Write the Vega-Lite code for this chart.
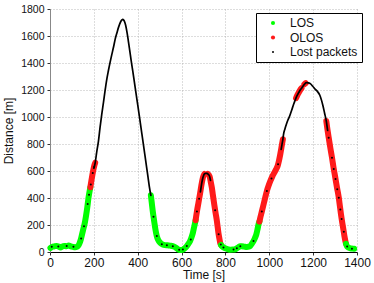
{
  "$schema": "https://vega.github.io/schema/vega-lite/v6.json",
  "width": 307,
  "height": 243,
  "autosize": {"type": "none"},
  "padding": {"left": 50, "top": 9, "right": 17, "bottom": 31},
  "background": "white",
  "config": {
    "view": {"stroke": null},
    "font": "Liberation Sans",
    "axis": {
      "grid": true,
      "gridDash": [1, 2],
      "gridColor": "#a8a8a8",
      "gridWidth": 0.8,
      "tickSize": 3,
      "tickColor": "#333",
      "labelColor": "#111",
      "titleColor": "#111",
      "titleFontWeight": "normal",
      "titleFontSize": 12,
      "labelFlush": false,
      "labelOverlap": false,
      "format": "d"
    }
  },
  "datasets": {
    "track": [
      {"seg": "s1", "cls": "LOS", "t": 2, "d": 30}, {"seg": "s1", "cls": "LOS", "t": 10, "d": 38}, {"seg": "s1", "cls": "LOS", "t": 20, "d": 42}, {"seg": "s1", "cls": "LOS", "t": 30, "d": 45}, {"seg": "s1", "cls": "LOS", "t": 40, "d": 40}, {"seg": "s1", "cls": "LOS", "t": 48, "d": 33}, {"seg": "s1", "cls": "LOS", "t": 55, "d": 40}, {"seg": "s1", "cls": "LOS", "t": 65, "d": 45}, {"seg": "s1", "cls": "LOS", "t": 75, "d": 43}, {"seg": "s1", "cls": "LOS", "t": 85, "d": 48}, {"seg": "s1", "cls": "LOS", "t": 95, "d": 42}, {"seg": "s1", "cls": "LOS", "t": 105, "d": 38}, {"seg": "s1", "cls": "LOS", "t": 115, "d": 35}, {"seg": "s1", "cls": "LOS", "t": 122, "d": 38}, {"seg": "s1", "cls": "LOS", "t": 128, "d": 45}, {"seg": "s1", "cls": "LOS", "t": 134, "d": 62}, {"seg": "s1", "cls": "LOS", "t": 140, "d": 90}, {"seg": "s1", "cls": "LOS", "t": 146, "d": 130}, {"seg": "s1", "cls": "LOS", "t": 152, "d": 170}, {"seg": "s1", "cls": "LOS", "t": 158, "d": 210}, {"seg": "s1", "cls": "LOS", "t": 164, "d": 265}, {"seg": "s1", "cls": "LOS", "t": 170, "d": 330}, {"seg": "s1", "cls": "LOS", "t": 175, "d": 395}, {"seg": "s1", "cls": "LOS", "t": 180, "d": 445}, {"seg": "s1", "cls": "LOS", "t": 184, "d": 480},
      {"seg": "s2", "cls": "OLOS", "t": 184, "d": 480}, {"seg": "s2", "cls": "OLOS", "t": 190, "d": 540}, {"seg": "s2", "cls": "OLOS", "t": 196, "d": 595}, {"seg": "s2", "cls": "OLOS", "t": 202, "d": 640}, {"seg": "s2", "cls": "OLOS", "t": 206, "d": 660},
      {"seg": "s3", "cls": "Lost packets", "t": 200, "d": 620}, {"seg": "s3", "cls": "Lost packets", "t": 206, "d": 660}, {"seg": "s3", "cls": "Lost packets", "t": 213, "d": 740}, {"seg": "s3", "cls": "Lost packets", "t": 221, "d": 822}, {"seg": "s3", "cls": "Lost packets", "t": 228, "d": 920}, {"seg": "s3", "cls": "Lost packets", "t": 236, "d": 1020}, {"seg": "s3", "cls": "Lost packets", "t": 244, "d": 1110}, {"seg": "s3", "cls": "Lost packets", "t": 251, "d": 1193}, {"seg": "s3", "cls": "Lost packets", "t": 258, "d": 1270}, {"seg": "s3", "cls": "Lost packets", "t": 266, "d": 1341}, {"seg": "s3", "cls": "Lost packets", "t": 274, "d": 1405}, {"seg": "s3", "cls": "Lost packets", "t": 282, "d": 1464}, {"seg": "s3", "cls": "Lost packets", "t": 290, "d": 1520}, {"seg": "s3", "cls": "Lost packets", "t": 297, "d": 1575}, {"seg": "s3", "cls": "Lost packets", "t": 305, "d": 1622}, {"seg": "s3", "cls": "Lost packets", "t": 312, "d": 1662}, {"seg": "s3", "cls": "Lost packets", "t": 318, "d": 1690}, {"seg": "s3", "cls": "Lost packets", "t": 324, "d": 1711}, {"seg": "s3", "cls": "Lost packets", "t": 328, "d": 1720}, {"seg": "s3", "cls": "Lost packets", "t": 332, "d": 1723}, {"seg": "s3", "cls": "Lost packets", "t": 336, "d": 1718}, {"seg": "s3", "cls": "Lost packets", "t": 339, "d": 1711}, {"seg": "s3", "cls": "Lost packets", "t": 345, "d": 1680}, {"seg": "s3", "cls": "Lost packets", "t": 352, "d": 1620}, {"seg": "s3", "cls": "Lost packets", "t": 358, "d": 1555}, {"seg": "s3", "cls": "Lost packets", "t": 364, "d": 1488}, {"seg": "s3", "cls": "Lost packets", "t": 370, "d": 1420}, {"seg": "s3", "cls": "Lost packets", "t": 377, "d": 1345}, {"seg": "s3", "cls": "Lost packets", "t": 384, "d": 1268}, {"seg": "s3", "cls": "Lost packets", "t": 391, "d": 1190}, {"seg": "s3", "cls": "Lost packets", "t": 398, "d": 1112}, {"seg": "s3", "cls": "Lost packets", "t": 405, "d": 1035}, {"seg": "s3", "cls": "Lost packets", "t": 412, "d": 955}, {"seg": "s3", "cls": "Lost packets", "t": 419, "d": 875}, {"seg": "s3", "cls": "Lost packets", "t": 426, "d": 795}, {"seg": "s3", "cls": "Lost packets", "t": 433, "d": 715}, {"seg": "s3", "cls": "Lost packets", "t": 440, "d": 635}, {"seg": "s3", "cls": "Lost packets", "t": 447, "d": 555}, {"seg": "s3", "cls": "Lost packets", "t": 453, "d": 485}, {"seg": "s3", "cls": "Lost packets", "t": 460, "d": 420},
      {"seg": "s4", "cls": "LOS", "t": 460, "d": 420}, {"seg": "s4", "cls": "LOS", "t": 464, "d": 365}, {"seg": "s4", "cls": "LOS", "t": 468, "d": 310}, {"seg": "s4", "cls": "LOS", "t": 472, "d": 262}, {"seg": "s4", "cls": "LOS", "t": 476, "d": 218}, {"seg": "s4", "cls": "LOS", "t": 480, "d": 175}, {"seg": "s4", "cls": "LOS", "t": 484, "d": 140}, {"seg": "s4", "cls": "LOS", "t": 488, "d": 112}, {"seg": "s4", "cls": "LOS", "t": 493, "d": 90}, {"seg": "s4", "cls": "LOS", "t": 499, "d": 75}, {"seg": "s4", "cls": "LOS", "t": 506, "d": 63}, {"seg": "s4", "cls": "LOS", "t": 514, "d": 55}, {"seg": "s4", "cls": "LOS", "t": 524, "d": 51}, {"seg": "s4", "cls": "LOS", "t": 536, "d": 50}, {"seg": "s4", "cls": "LOS", "t": 548, "d": 47}, {"seg": "s4", "cls": "LOS", "t": 560, "d": 43}, {"seg": "s4", "cls": "LOS", "t": 568, "d": 38}, {"seg": "s4", "cls": "LOS", "t": 576, "d": 30}, {"seg": "s4", "cls": "LOS", "t": 584, "d": 20}, {"seg": "s4", "cls": "LOS", "t": 592, "d": 15}, {"seg": "s4", "cls": "LOS", "t": 600, "d": 15}, {"seg": "s4", "cls": "LOS", "t": 608, "d": 20}, {"seg": "s4", "cls": "LOS", "t": 616, "d": 30}, {"seg": "s4", "cls": "LOS", "t": 624, "d": 44}, {"seg": "s4", "cls": "LOS", "t": 631, "d": 60}, {"seg": "s4", "cls": "LOS", "t": 639, "d": 82}, {"seg": "s4", "cls": "LOS", "t": 646, "d": 112}, {"seg": "s4", "cls": "LOS", "t": 652, "d": 145}, {"seg": "s4", "cls": "LOS", "t": 658, "d": 190}, {"seg": "s4", "cls": "LOS", "t": 664, "d": 235},
      {"seg": "s5", "cls": "OLOS", "t": 664, "d": 235}, {"seg": "s5", "cls": "OLOS", "t": 670, "d": 300}, {"seg": "s5", "cls": "OLOS", "t": 677, "d": 365}, {"seg": "s5", "cls": "OLOS", "t": 684, "d": 430}, {"seg": "s5", "cls": "OLOS", "t": 690, "d": 490}, {"seg": "s5", "cls": "OLOS", "t": 695, "d": 535}, {"seg": "s5", "cls": "OLOS", "t": 700, "d": 565}, {"seg": "s5", "cls": "OLOS", "t": 704, "d": 578},
      {"seg": "s6", "cls": "Lost packets", "t": 686, "d": 445}, {"seg": "s6", "cls": "Lost packets", "t": 690, "d": 490}, {"seg": "s6", "cls": "Lost packets", "t": 695, "d": 535}, {"seg": "s6", "cls": "Lost packets", "t": 700, "d": 565}, {"seg": "s6", "cls": "Lost packets", "t": 705, "d": 580}, {"seg": "s6", "cls": "Lost packets", "t": 710, "d": 583}, {"seg": "s6", "cls": "Lost packets", "t": 716, "d": 582}, {"seg": "s6", "cls": "Lost packets", "t": 722, "d": 575}, {"seg": "s6", "cls": "Lost packets", "t": 728, "d": 560}, {"seg": "s6", "cls": "Lost packets", "t": 732, "d": 530},
      {"seg": "s7", "cls": "OLOS", "t": 720, "d": 578}, {"seg": "s7", "cls": "OLOS", "t": 728, "d": 560}, {"seg": "s7", "cls": "OLOS", "t": 733, "d": 520}, {"seg": "s7", "cls": "OLOS", "t": 738, "d": 477}, {"seg": "s7", "cls": "OLOS", "t": 743, "d": 420}, {"seg": "s7", "cls": "OLOS", "t": 749, "d": 353}, {"seg": "s7", "cls": "OLOS", "t": 755, "d": 290}, {"seg": "s7", "cls": "OLOS", "t": 761, "d": 230}, {"seg": "s7", "cls": "OLOS", "t": 765, "d": 180}, {"seg": "s7", "cls": "OLOS", "t": 769, "d": 131}, {"seg": "s7", "cls": "OLOS", "t": 773, "d": 95}, {"seg": "s7", "cls": "OLOS", "t": 776, "d": 69}, {"seg": "s7", "cls": "OLOS", "t": 780, "d": 52},
      {"seg": "s8", "cls": "LOS", "t": 780, "d": 52}, {"seg": "s8", "cls": "LOS", "t": 785, "d": 42}, {"seg": "s8", "cls": "LOS", "t": 792, "d": 33}, {"seg": "s8", "cls": "LOS", "t": 799, "d": 27}, {"seg": "s8", "cls": "LOS", "t": 810, "d": 22}, {"seg": "s8", "cls": "LOS", "t": 822, "d": 17}, {"seg": "s8", "cls": "LOS", "t": 834, "d": 18}, {"seg": "s8", "cls": "LOS", "t": 845, "d": 20}, {"seg": "s8", "cls": "LOS", "t": 852, "d": 28}, {"seg": "s8", "cls": "LOS", "t": 860, "d": 37}, {"seg": "s8", "cls": "LOS", "t": 867, "d": 42}, {"seg": "s8", "cls": "LOS", "t": 875, "d": 42}, {"seg": "s8", "cls": "LOS", "t": 885, "d": 40}, {"seg": "s8", "cls": "LOS", "t": 898, "d": 37}, {"seg": "s8", "cls": "LOS", "t": 906, "d": 39}, {"seg": "s8", "cls": "LOS", "t": 913, "d": 44}, {"seg": "s8", "cls": "LOS", "t": 920, "d": 60}, {"seg": "s8", "cls": "LOS", "t": 928, "d": 81}, {"seg": "s8", "cls": "LOS", "t": 935, "d": 105}, {"seg": "s8", "cls": "LOS", "t": 941, "d": 131}, {"seg": "s8", "cls": "LOS", "t": 946, "d": 165}, {"seg": "s8", "cls": "LOS", "t": 951, "d": 205}, {"seg": "s8", "cls": "LOS", "t": 955, "d": 225},
      {"seg": "s9", "cls": "OLOS", "t": 955, "d": 225}, {"seg": "s9", "cls": "OLOS", "t": 959, "d": 254}, {"seg": "s9", "cls": "OLOS", "t": 966, "d": 300}, {"seg": "s9", "cls": "OLOS", "t": 974, "d": 353}, {"seg": "s9", "cls": "OLOS", "t": 981, "d": 400}, {"seg": "s9", "cls": "OLOS", "t": 989, "d": 452}, {"seg": "s9", "cls": "OLOS", "t": 997, "d": 492}, {"seg": "s9", "cls": "OLOS", "t": 1005, "d": 526}, {"seg": "s9", "cls": "OLOS", "t": 1014, "d": 560}, {"seg": "s9", "cls": "OLOS", "t": 1023, "d": 588}, {"seg": "s9", "cls": "OLOS", "t": 1030, "d": 610}, {"seg": "s9", "cls": "OLOS", "t": 1038, "d": 637}, {"seg": "s9", "cls": "OLOS", "t": 1044, "d": 675}, {"seg": "s9", "cls": "OLOS", "t": 1050, "d": 723}, {"seg": "s9", "cls": "OLOS", "t": 1054, "d": 760}, {"seg": "s9", "cls": "OLOS", "t": 1058, "d": 798}, {"seg": "s9", "cls": "OLOS", "t": 1062, "d": 835},
      {"seg": "s10", "cls": "Lost packets", "t": 1054, "d": 760}, {"seg": "s10", "cls": "Lost packets", "t": 1058, "d": 798}, {"seg": "s10", "cls": "Lost packets", "t": 1062, "d": 835}, {"seg": "s10", "cls": "Lost packets", "t": 1065, "d": 872}, {"seg": "s10", "cls": "Lost packets", "t": 1071, "d": 910}, {"seg": "s10", "cls": "Lost packets", "t": 1078, "d": 946}, {"seg": "s10", "cls": "Lost packets", "t": 1085, "d": 978}, {"seg": "s10", "cls": "Lost packets", "t": 1093, "d": 1007}, {"seg": "s10", "cls": "Lost packets", "t": 1102, "d": 1050}, {"seg": "s10", "cls": "Lost packets", "t": 1111, "d": 1094}, {"seg": "s10", "cls": "Lost packets", "t": 1118, "d": 1125}, {"seg": "s10", "cls": "Lost packets", "t": 1126, "d": 1156}, {"seg": "s10", "cls": "Lost packets", "t": 1134, "d": 1180}, {"seg": "s10", "cls": "Lost packets", "t": 1141, "d": 1200}, {"seg": "s10", "cls": "Lost packets", "t": 1149, "d": 1217}, {"seg": "s10", "cls": "Lost packets", "t": 1155, "d": 1232}, {"seg": "s10", "cls": "Lost packets", "t": 1162, "d": 1246}, {"seg": "s10", "cls": "Lost packets", "t": 1169, "d": 1254}, {"seg": "s10", "cls": "Lost packets", "t": 1178, "d": 1253}, {"seg": "s10", "cls": "Lost packets", "t": 1187, "d": 1247}, {"seg": "s10", "cls": "Lost packets", "t": 1198, "d": 1228}, {"seg": "s10", "cls": "Lost packets", "t": 1210, "d": 1205}, {"seg": "s10", "cls": "Lost packets", "t": 1220, "d": 1188}, {"seg": "s10", "cls": "Lost packets", "t": 1230, "d": 1163}, {"seg": "s10", "cls": "Lost packets", "t": 1238, "d": 1125}, {"seg": "s10", "cls": "Lost packets", "t": 1245, "d": 1081}, {"seg": "s10", "cls": "Lost packets", "t": 1252, "d": 1030}, {"seg": "s10", "cls": "Lost packets", "t": 1260, "d": 970}, {"seg": "s10", "cls": "Lost packets", "t": 1266, "d": 900},
      {"seg": "s11", "cls": "OLOS", "t": 1122, "d": 1140}, {"seg": "s11", "cls": "OLOS", "t": 1128, "d": 1162}, {"seg": "s11", "cls": "OLOS", "t": 1134, "d": 1180}, {"seg": "s11", "cls": "OLOS", "t": 1141, "d": 1200}, {"seg": "s11", "cls": "OLOS", "t": 1147, "d": 1213},
      {"seg": "s14", "cls": "OLOS", "t": 1160, "d": 1243}, {"seg": "s14", "cls": "OLOS", "t": 1166, "d": 1251},
      {"seg": "s12", "cls": "OLOS", "t": 1260, "d": 970}, {"seg": "s12", "cls": "OLOS", "t": 1265, "d": 910}, {"seg": "s12", "cls": "OLOS", "t": 1271, "d": 847}, {"seg": "s12", "cls": "OLOS", "t": 1278, "d": 775}, {"seg": "s12", "cls": "OLOS", "t": 1286, "d": 699}, {"seg": "s12", "cls": "OLOS", "t": 1293, "d": 625}, {"seg": "s12", "cls": "OLOS", "t": 1301, "d": 551}, {"seg": "s12", "cls": "OLOS", "t": 1309, "d": 475}, {"seg": "s12", "cls": "OLOS", "t": 1317, "d": 402}, {"seg": "s12", "cls": "OLOS", "t": 1322, "d": 340}, {"seg": "s12", "cls": "OLOS", "t": 1327, "d": 279}, {"seg": "s12", "cls": "OLOS", "t": 1333, "d": 215}, {"seg": "s12", "cls": "OLOS", "t": 1339, "d": 156}, {"seg": "s12", "cls": "OLOS", "t": 1343, "d": 115}, {"seg": "s12", "cls": "OLOS", "t": 1347, "d": 81}, {"seg": "s12", "cls": "OLOS", "t": 1350, "d": 60},
      {"seg": "s13", "cls": "LOS", "t": 1350, "d": 60}, {"seg": "s13", "cls": "LOS", "t": 1355, "d": 40}, {"seg": "s13", "cls": "LOS", "t": 1362, "d": 32}, {"seg": "s13", "cls": "LOS", "t": 1370, "d": 27}, {"seg": "s13", "cls": "LOS", "t": 1380, "d": 25}, {"seg": "s13", "cls": "LOS", "t": 1387, "d": 24}
    ],
    "dots": [
      {"t": 8, "d": 38}, {"t": 38, "d": 41}, {"t": 76, "d": 44}, {"t": 107, "d": 38}, {"t": 142, "d": 100}, {"t": 155, "d": 190}, {"t": 172, "d": 355}, {"t": 178, "d": 425}, {"t": 186, "d": 500}, {"t": 195, "d": 585}, {"t": 201, "d": 630},
      {"t": 472, "d": 262}, {"t": 487, "d": 118}, {"t": 510, "d": 58}, {"t": 533, "d": 50}, {"t": 560, "d": 43}, {"t": 589, "d": 17}, {"t": 606, "d": 19}, {"t": 624, "d": 44}, {"t": 642, "d": 92}, {"t": 670, "d": 300}, {"t": 680, "d": 395},
      {"t": 753, "d": 310}, {"t": 769, "d": 131}, {"t": 779, "d": 55}, {"t": 791, "d": 34}, {"t": 837, "d": 18}, {"t": 852, "d": 28}, {"t": 868, "d": 42}, {"t": 928, "d": 81},
      {"t": 966, "d": 300}, {"t": 989, "d": 452}, {"t": 1010, "d": 545}, {"t": 1040, "d": 650},
      {"t": 1271, "d": 847}, {"t": 1286, "d": 699}, {"t": 1294, "d": 615}, {"t": 1302, "d": 540}, {"t": 1310, "d": 465}, {"t": 1317, "d": 402}, {"t": 1324, "d": 315}, {"t": 1330, "d": 245}, {"t": 1340, "d": 150}, {"t": 1355, "d": 40}, {"t": 1377, "d": 25}
    ]
  },
  "encoding": {
    "x": {
      "field": "t", "type": "quantitative",
      "scale": {"domain": [0, 1400], "nice": false, "zero": false},
      "axis": {"title": "Time [s]", "values": [0, 200, 400, 600, 800, 1000, 1200, 1400], "labelFontSize": 12, "labelPadding": 2, "titlePadding": 1, "domainColor": "#000"}
    },
    "y": {
      "field": "d", "type": "quantitative",
      "scale": {"domain": [0, 1800], "nice": false},
      "axis": {"title": "Distance [m]", "values": [0, 200, 400, 600, 800, 1000, 1200, 1400, 1600, 1800], "labelFontSize": 10.5, "labelPadding": 3, "titlePadding": 5, "domainColor": "#888"}
    }
  },
  "layer": [
    {
      "data": {"name": "track"},
      "transform": [{"filter": "datum.cls !== 'Lost packets'"}],
      "mark": {"type": "line", "strokeWidth": 6, "strokeCap": "round", "strokeJoin": "round", "interpolate": "monotone"},
      "encoding": {
        "detail": {"field": "seg"},
        "stroke": {"field": "cls", "type": "nominal", "scale": {"domain": ["LOS", "OLOS"], "range": ["#00ff00", "#ff1a1a"]}, "legend": null}
      }
    },
    {
      "data": {"name": "track"},
      "transform": [{"filter": "datum.cls === 'Lost packets'"}],
      "mark": {"type": "line", "strokeWidth": 1.7, "color": "#000", "strokeCap": "round", "interpolate": "monotone"},
      "encoding": {"detail": {"field": "seg"}}
    },
    {
      "data": {"name": "dots"},
      "transform": [{"calculate": "'Lost packets'", "as": "cls"}],
      "mark": {"type": "circle", "opacity": 1},
      "encoding": {
        "color": {
          "field": "cls", "type": "nominal",
          "scale": {"domain": ["LOS", "OLOS", "Lost packets"], "range": ["#00ff00", "#ff1a1a", "#000000"]},
          "legend": {
            "title": null, "orient": "none", "legendX": 206, "legendY": 4,
            "strokeColor": "#000", "fillColor": "#fff", "padding": 4,
            "symbolOffset": 7, "labelOffset": 11, "rowPadding": 2.5,
            "labelFontSize": 12, "labelColor": "#111", "symbolType": "circle"
          }
        },
        "size": {
          "field": "cls", "type": "nominal",
          "scale": {"type": "ordinal", "domain": ["LOS", "OLOS", "Lost packets"], "range": [17, 17, 4]}
        }
      }
    }
  ]
}
